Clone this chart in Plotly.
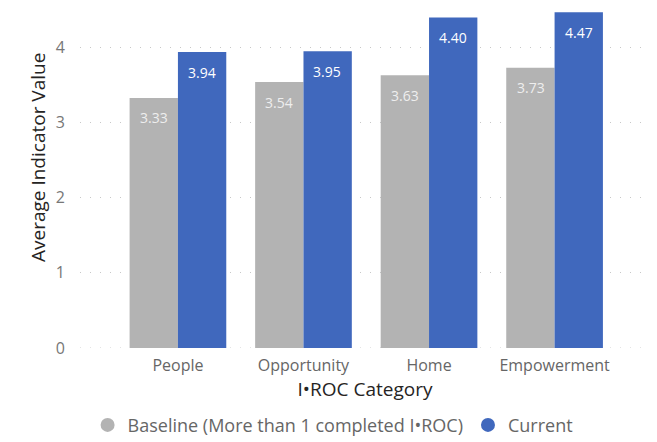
import plotly.graph_objects as go

categories = ["People", "Opportunity", "Home", "Empowerment"]
baseline = [3.33, 3.54, 3.63, 3.73]
current = [3.94, 3.95, 4.40, 4.47]
series_names = ["Baseline (More than 1 completed I•ROC)", "Current"]
colors = ["#B3B3B3", "#4068BD"]
label_colors = ["#EEEEEE", "#FFFFFF"]
ytick_vals = [0, 1, 2, 3, 4]
x_title = "I•ROC Category"
y_title = "Average Indicator Value"

FONT = "Open Sans"
BAR_PX = 48

fig = go.Figure()
for vals, name, col in zip([baseline, current], series_names, colors):
    fig.add_trace(go.Bar(
        x=categories, y=vals, name=name, marker=dict(color=col, line=dict(width=0)),
        showlegend=False, hoverinfo="x+y",
    ))
# legend entries with circle markers
for name, col in zip(series_names, colors):
    fig.add_trace(go.Scatter(
        x=[None], y=[None], mode="markers", name=name,
        marker=dict(symbol="circle", size=14, color=col),
    ))

# data labels inside the top of each bar
for vals, lc, shift in zip([baseline, current], label_colors, [-BAR_PX / 2, BAR_PX / 2]):
    for c, v in zip(categories, vals):
        fig.add_annotation(
            x=c, y=v, xref="x", yref="y", text=f"{v:.2f}", showarrow=False,
            xshift=shift, yshift=-20, font=dict(size=14, color=lc, family=FONT),
        )

fig.add_shape(type="line", xref="paper", yref="y", x0=0, x1=1, y0=0, y1=0,
              line=dict(color="#C8C8C8", width=1, dash="1px,9px"), layer="below")

# y-axis title (positioned like the reference, slightly above the plot centre)
fig.add_annotation(
    text=y_title, xref="paper", yref="paper", x=-0.0737, y=0.565,
    xanchor="center", yanchor="middle", textangle=-90, showarrow=False,
    font=dict(size=19, color="#252423", family=FONT),
)

fig.update_layout(
    width=657, height=442,
    margin=dict(l=80, r=7, t=10, b=94, autoexpand=False),
    barmode="group", bargap=0.23, bargroupgap=0,
    plot_bgcolor="white", paper_bgcolor="white",
    font=dict(family=FONT, color="#666666"),
    showlegend=True,
    legend=dict(orientation="h", xref="container", yref="container",
                x=0.507, xanchor="center", y=0.038, yanchor="middle",
                font=dict(size=18, color="#666666", family=FONT),
                itemwidth=30, traceorder="normal", tracegroupgap=0),
)
fig.update_xaxes(
    range=[-0.78, 3.76], showgrid=False, zeroline=False, showline=False, automargin=False,
    tickfont=dict(size=16, color="#666666", family=FONT), ticks="", ticklabelstandoff=6,
    title=dict(text=x_title, font=dict(size=19, color="#252423", family=FONT), standoff=0),
)
fig.update_yaxes(
    range=[0, 4.5], tickvals=ytick_vals, showgrid=True, gridcolor="#C8C8C8",
    griddash="1px,9px", gridwidth=1, zeroline=False, showline=False, automargin=False,
    tickfont=dict(size=16, color="#777777", family=FONT), ticks="", ticklabelstandoff=14,
)
fig.write_html("out.html")
